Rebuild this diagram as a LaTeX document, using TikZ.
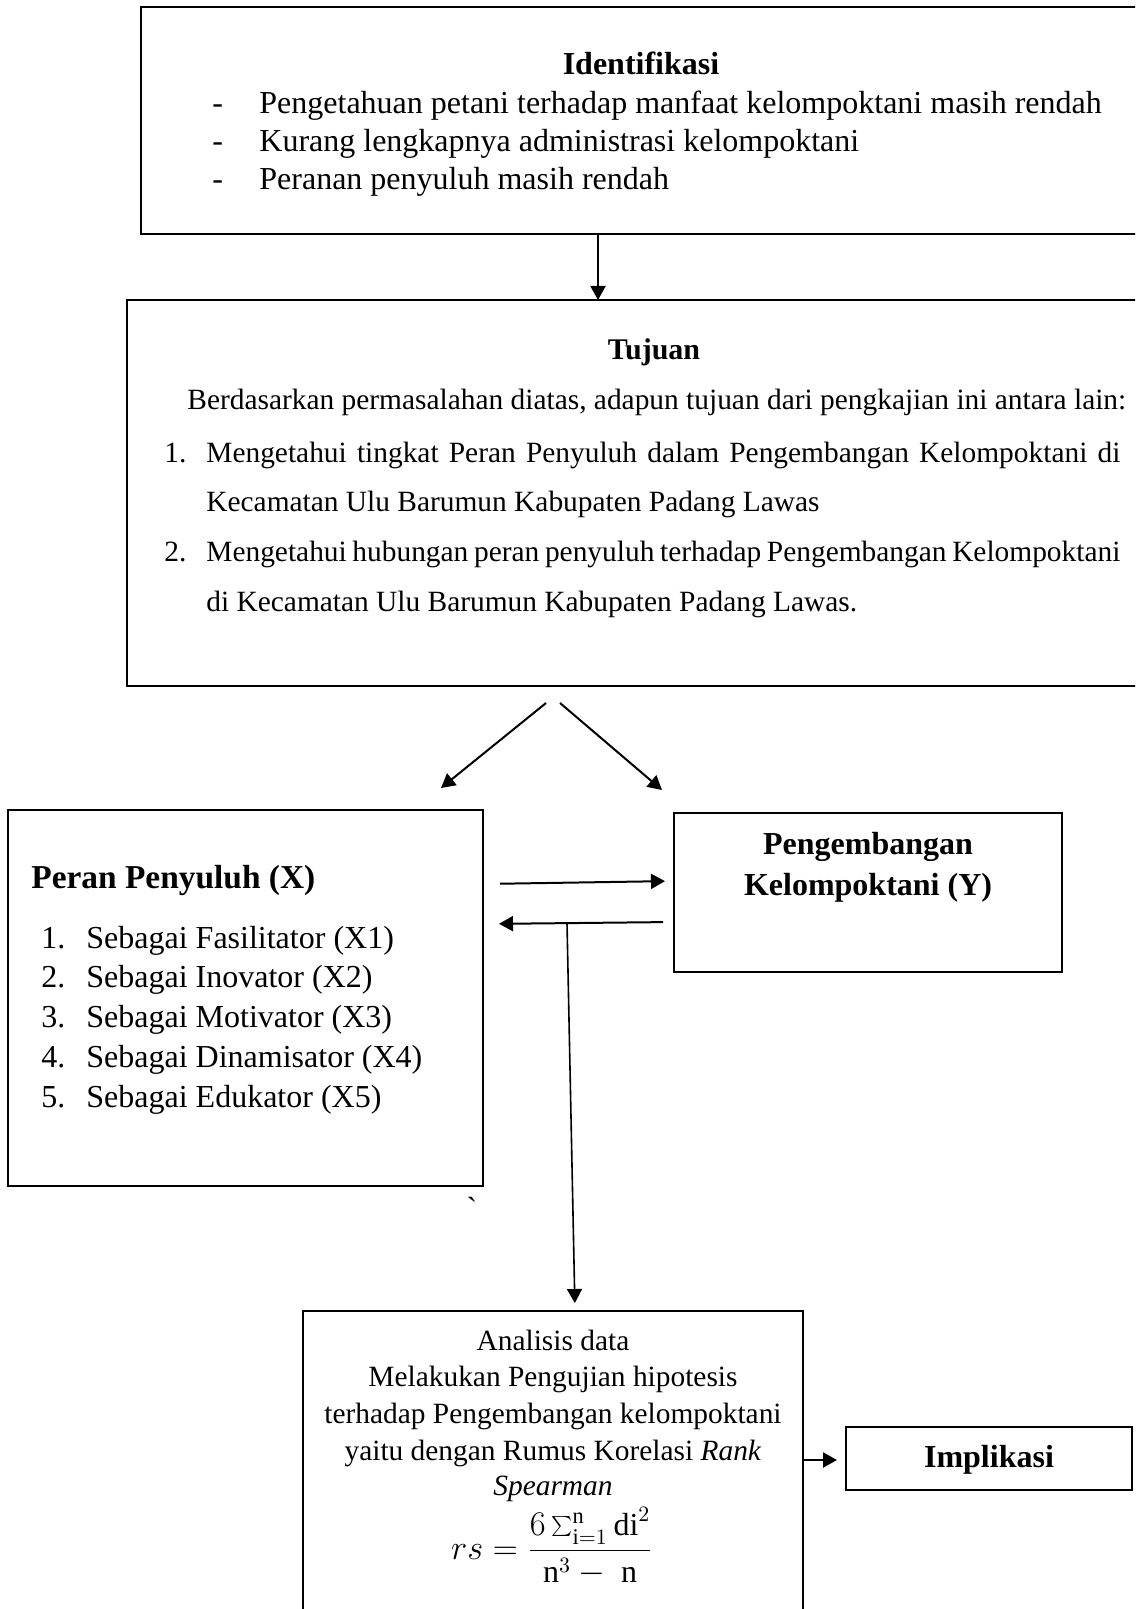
\documentclass[tikz,border=0pt]{standalone}
\usepackage{fontspec}
\setmainfont{Liberation Serif}
\usetikzlibrary{arrows.meta}
\begin{document}
\begin{tikzpicture}[x=0.5pt,y=-0.5pt,
  font=\fontsize{16pt}{19pt}\selectfont,
  box/.style={draw, line width=1pt, inner sep=0pt, outer sep=0pt, anchor=north west},
  thickbox/.style={box, line width=1.3pt},
  txt/.style={inner sep=0pt, anchor=mid west},
  stxt/.style={txt, font=\fontsize{14.7pt}{18pt}\selectfont},
  ctr/.style={inner sep=0pt, anchor=mid},
  sctr/.style={ctr, font=\fontsize{14.7pt}{18pt}\selectfont},
  hd/.style={inner sep=0pt, font=\fontsize{16pt}{19pt}\selectfont\bfseries},
  arr/.style={-{Triangle[length=7pt,width=7.5pt]}, line width=1pt}]
\useasboundingbox (0,0) rectangle (1135,1609);
\clip (0,0) rectangle (1135,1609);

% boxes
\node[thickbox, minimum width=499.5pt, minimum height=113.5pt] (idbox) at (141,7) {};
\node[thickbox, minimum width=506.5pt, minimum height=193pt] (tujbox) at (127,300) {};
\node[box, minimum width=237.25pt, minimum height=187.75pt] (xbox) at (8,810) {};
\node[box, minimum width=194pt, minimum height=79.5pt] (ybox) at (674,813) {};
\node[box, minimum width=250pt, minimum height=160pt] (anbox) at (303,1311) {};
\node[box, minimum width=143pt, minimum height=31.5pt] (impbox) at (846,1427) {};

% Identifikasi
\node[hd, anchor=mid] (idh) at (641,70) {Identifikasi};
\node[txt] (d1) at (212,109) {-};
\node[txt] (d2) at (212,147) {-};
\node[txt] (d3) at (212,185) {-};
\node[txt] (i1) at (259,109) {Pengetahuan petani terhadap manfaat kelompoktani masih rendah};
\node[txt] (i2) at (259,147) {Kurang lengkapnya administrasi kelompoktani};
\node[txt] (i3) at (259,185) {Peranan penyuluh masih rendah};

% Tujuan
\node[hd, anchor=mid, font=\fontsize{15pt}{18pt}\selectfont\bfseries] (tjh) at (654,355) {Tujuan};
\node[stxt] (tj0) at (187,405) {Berdasarkan permasalahan diatas, adapun tujuan dari pengkajian ini antara lain:};
\node[stxt] (n1) at (164,457.5) {1.};
\node[stxt] (t1a) at (206,457.5) {\makebox[457pt][s]{Mengetahui tingkat Peran Penyuluh dalam Pengembangan Kelompoktani di}};
\node[stxt] (t1b) at (206,507) {Kecamatan Ulu Barumun Kabupaten Padang Lawas};
\node[stxt] (n2) at (164,557) {2.};
\node[stxt] (t2a) at (206,557) {\makebox[457pt][s]{Mengetahui hubungan peran penyuluh terhadap Pengembangan Kelompoktani}};
\node[stxt] (t2b) at (206,607) {di Kecamatan Ulu Barumun Kabupaten Padang Lawas.};

% Peran Penyuluh
\node[hd, anchor=mid west, font=\fontsize{16.7pt}{19pt}\selectfont\bfseries] (xh) at (31,884) {Peran Penyuluh (X)};
\node[txt] (xn1) at (41,944) {1.};
\node[txt] (xn2) at (41,983) {2.};
\node[txt] (xn3) at (41,1023) {3.};
\node[txt] (xn4) at (41,1063) {4.};
\node[txt] (xn5) at (41,1103) {5.};
\node[txt] (x1) at (86,944) {Sebagai Fasilitator (X1)};
\node[txt] (x2) at (86,983) {Sebagai Inovator (X2)};
\node[txt] (x3) at (86,1023) {Sebagai Motivator (X3)};
\node[txt] (x4) at (86,1063) {Sebagai Dinamisator (X4)};
\node[txt] (x5) at (86,1103) {Sebagai Edukator (X5)};

% Pengembangan
\node[hd, anchor=mid] (yh1) at (868,850) {Pengembangan};
\node[hd, anchor=mid] (yh2) at (868,891) {Kelompoktani (Y)};

% backtick
\node[ctr] (tick) at (472,1215) {\addfontfeatures{Ligatures=TeXOff}`};

% Analisis
\node[sctr] (a1) at (553,1346) {Analisis data};
\node[sctr] (a2) at (553,1382) {Melakukan Pengujian hipotesis};
\node[sctr] (a3) at (553,1419) {terhadap Pengembangan kelompoktani};
\node[sctr] (a4) at (553,1456) {yaitu dengan Rumus Korelasi \textit{Rank}};
\node[sctr] (a5) at (553,1491) {\textit{Spearman}};
\node[inner sep=0pt, anchor=base] (formula) at (552,1559)
  {$rs = \displaystyle\frac{6\sum\nolimits_{\mathrm{i}=1}^{\mathrm{n}}\mathrm{di}^2}{\mathrm{n}^3 -\ \mathrm{n}}$};

% Implikasi
\node[hd, anchor=mid] (imph) at ([yshift=-2pt]impbox.center) {Implikasi};

% connectors
\draw[arr] (598,0 |- idbox.south) -- (598,0 |- tujbox.north);
\coordinate (s1) at (546,703);
\coordinate (e1) at (441,788);
\coordinate (s2) at (560,703);
\coordinate (e2) at (662,790);
\draw[arr] (s1) -- (e1);
\draw[arr] (s2) -- (e2);
\draw[arr, shorten <=8.75pt, shorten >=4.5pt] (xbox.east |- 0,884) -- (ybox.west |- 0,881);
\draw[arr, shorten <=5.5pt, shorten >=8.25pt] (ybox.west |- 0,922) -- (xbox.east |- 0,924);
\coordinate (v1) at (567,923);
\draw[arr, line width=0.8pt, shorten >=4pt] (v1) -- (575,0 |- anbox.north);
\draw[arr, shorten >=4.5pt] (anbox.east |- 0,1460) -- (impbox.west |- 0,1460);
\end{tikzpicture}
\end{document}
